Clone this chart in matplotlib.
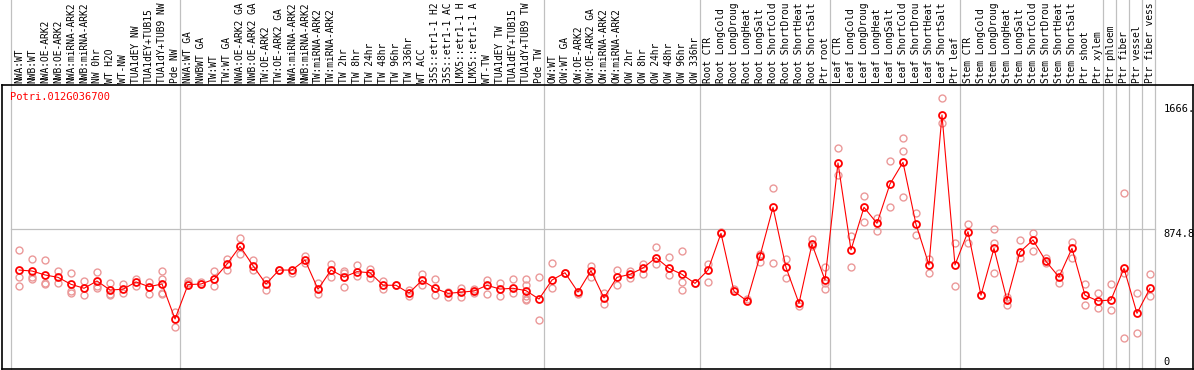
import matplotlib
matplotlib.use("Agg")
import matplotlib.pyplot as plt

gene = "Potri.012G036700"

# sample names as far as the reference shows them (cut at the top)
samples = ["NWA:WT", "NWB:WT", "NWA:OE-ARK2", "NWB:OE-ARK2", "NWA:miRNA-ARK2", "NWB:miRNA-ARK2",
           "NW 0hr", "WT H2O", "WT-NW", "TUA1dEY NW", "TUA1dEY+TUB15", "TUA1dY+TUB9 NW", "Pde NW",
           "NWA:WT GA", "NWBWT GA", "TW:WT", "TW:WT GA", "NWA:OE-ARK2 GA", "NWB:OE-ARK2 GA",
           "TW:OE-ARK2", "TW:OE-ARK2 GA", "NWA:miRNA-ARK2", "NWB:miRNA-ARK2", "TW:miRNA-ARK2",
           "TW:miRNA-ARK2", "TW 2hr", "TW 8hr", "TW 24hr", "TW 48hr", "TW 96hr", "TW 336hr", "WT ACC",
           "35S::etr1-1 H2", "35S::etr1-1 AC", "LMX5::etr1-1 H", "LMX5::etr1-1 A", "WT-TW",
           "TUA1dEY TW", "TUA1dEY+TUB15", "TUA1dY+TUB9 TW", "Pde TW",
           "OW:WT", "OW:WT GA", "OW:OE-ARK2", "OW:OE-ARK2 GA", "OW:miRNA-ARK2", "OW:miRNA-ARK2",
           "OW 2hr", "OW 8hr", "OW 24hr", "OW 48hr", "OW 96hr", "OW 336hr",
           "Root CTR", "Root LongCold", "Root LongDroug", "Root LongHeat", "Root LongSalt",
           "Root ShortCold", "Root ShortDrou", "Root ShortHeat", "Root ShortSalt", "Ptr root",
           "Leaf CTR", "Leaf LongCold", "Leaf LongDroug", "Leaf LongHeat", "Leaf LongSalt",
           "Leaf ShortCold", "Leaf ShortDrou", "Leaf ShortHeat", "Leaf ShortSalt", "Ptr leaf",
           "Stem CTR", "Stem LongCold", "Stem LongDroug", "Stem LongHeat", "Stem LongSalt",
           "Stem ShortCold", "Stem ShortDrou", "Stem ShortHeat", "Stem ShortSalt", "Ptr shoot",
           "Ptr xylem", "Ptr phloem", "Ptr fiber", "Ptr vessel", "Ptr fiber vess"]

means = [615, 609, 584, 569, 525, 500, 546, 489, 494, 540, 510, 527, 306,
         523, 527, 557, 653, 765, 642, 527, 615, 615, 678, 494, 615, 571, 605, 598,
         519, 519, 470, 550, 500, 468, 475, 483, 519, 495, 500, 485, 432,
         552, 598, 476, 611, 439, 569, 588, 628, 693, 626, 588, 531,
         615, 847, 481, 420, 704, 1011, 632, 405, 779, 552,
         1291, 742, 1011, 910, 1158, 1295, 904, 647, 1594, 647,
         857, 456, 752, 426, 729, 805, 670, 571, 752, 456,
         420, 426, 626, 342, 500]

reps = [[742, 573, 514], [683, 569, 557], [677, 535, 527], [609, 531], [594, 485, 472],
        [548, 456], [603, 514, 502], [533, 464, 456], [527, 472], [560, 514], [540, 464],
        [609, 557, 472, 464], [352, 257],
        [548, 531], [540], [609, 514], [683, 615], [815, 714], [678, 615], [552, 489],
        [615], [598], [704, 661], [531, 464], [653, 573], [611, 598, 506], [649, 577],
        [620, 563], [544, 494], [519], [491, 451], [590, 521], [557, 459], [476, 447],
        [502, 443], [494, 468], [552, 464], [531, 451], [557, 468],
        [557, 519, 451, 434, 426], [573, 300],
        [658, 500], [598], [464], [641, 573], [468, 401], [615, 523], [611, 565],
        [653, 588], [759, 653], [695, 582], [733, 540, 489], [531],
        [653, 541], [857], [497], [430], [716, 668], [1131, 658], [683, 563], [388],
        [813, 767], [632, 531, 494],
        [1385, 1215], [830, 636], [1082, 918], [942, 861], [1303, 1011], [1446, 1364, 1074],
        [973, 834], [683, 594], [1699, 1545], [784, 514],
        [904, 784], [456], [872, 784, 594], [447, 393], [803, 689], [847, 733], [689, 658],
        [594, 531], [792, 689], [527, 394],
        [472, 376], [527, 363], [1099, 594, 184], [468, 216], [588, 451]]

group_edges = [-0.6, 12.4, 40.4, 52.4, 62.4, 72.4, 83.4, 84.4, 85.4, 86.4, 87.4]
tick_values = [1666, 874.8, 0]
tick_labels = ["1666.", "874.8", "0"]

mono = "DejaVu Sans Mono"
grey = "#c0c0c0"

fig = plt.figure(figsize=(11.94, 3.70), dpi=100)
ax = fig.add_axes([2 / 1194, 1 / 370, 1191 / 1194, 284 / 370])
ax.set_xlim(-1.31, 90.31)
ax.set_ylim(-9.5, 1783)
ax.set_xticks([])
ax.set_yticks([])
for s in ax.spines.values():
    s.set_linewidth(1.2)
    s.set_color("black")

# group separators run up through the label area
trans = ax.get_xaxis_transform()
for e in group_edges:
    ax.plot([e, e], [0, 1.31], transform=trans, color=grey, lw=0.9, clip_on=False, zorder=0)
ax.plot([group_edges[0], group_edges[-1]], [874.8, 874.8], color=grey, lw=0.9, zorder=0)

# sample names, rotated
for i, s in enumerate(samples):
    ax.text(i, 1 + 2 / 284, s, rotation=90, ha="center", va="bottom", transform=trans,
            fontsize=6.9, family=mono, clip_on=False)

ax.text(8 / 1191, 0.958, gene, transform=ax.transAxes, color="red", fontsize=7.5,
        family=mono, va="center", ha="left")

# value labels on the right
ytrans = ax.get_yaxis_transform()
for v, t in zip(tick_values, tick_labels):
    ax.text(0.975, v, t, transform=ytrans, fontsize=7.5, family=mono, ha="left",
            va="bottom" if v == 0 else "top")

# replicates
rx = []
ry = []
for i, r in enumerate(reps):
    rx += [i] * len(r)
    ry += r
ax.plot(rx, ry, linestyle="none", marker="o", ms=5, mfc="none", mec="#eb9999", mew=1.0, zorder=2)

# means
x = list(range(len(means)))
ax.plot(x, means, color="red", lw=0.8, zorder=3)
ax.plot(x, means, linestyle="none", marker="o", ms=5, mfc="none", mec="red", mew=1.3, zorder=4)

fig.savefig("out.png", dpi=100)
